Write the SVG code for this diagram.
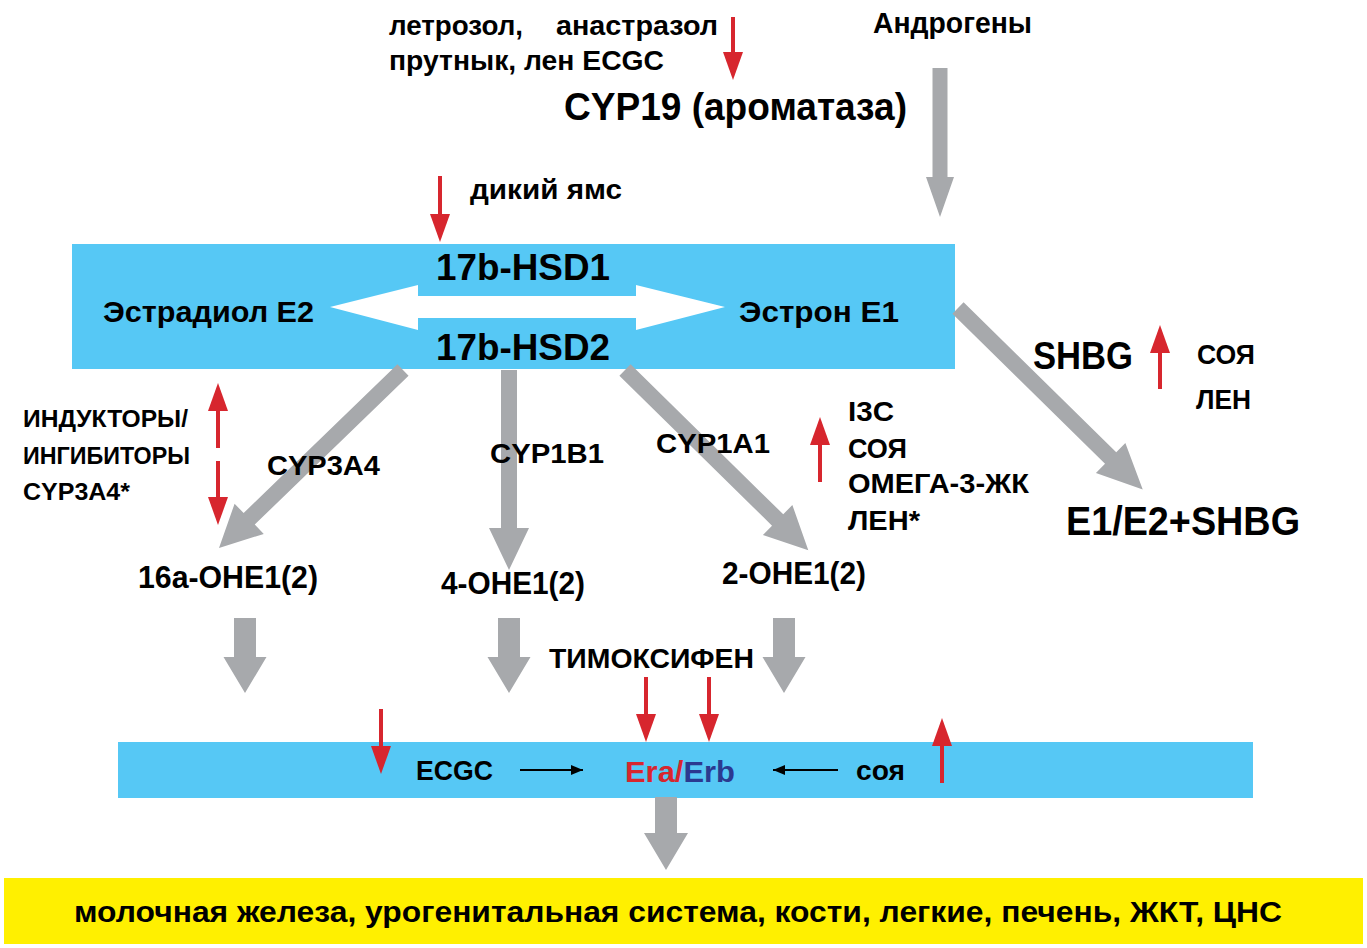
<svg xmlns="http://www.w3.org/2000/svg" width="1367" height="948" viewBox="0 0 1367 948">
<style>
text{font-family:"Liberation Sans Narrow","Liberation Sans",Arial,sans-serif;font-weight:bold;fill:#000}
.g{fill:#A7A9AC}
.blue{fill:#56C8F5}
.red{stroke:#D7262E;stroke-width:4;fill:none}
.blk{stroke:#000;stroke-width:2;fill:none}
</style>
<defs>
<marker id="rh" markerUnits="userSpaceOnUse" markerWidth="28" markerHeight="20" refX="18" refY="10" viewBox="0 0 28 20" orient="auto">
<path d="M0,0 L28,10 L0,20 Z" fill="#D7262E"/>
</marker>
<marker id="bh" markerUnits="userSpaceOnUse" markerWidth="12" markerHeight="10" refX="12" refY="5" viewBox="0 0 12 10" orient="auto">
<path d="M0,0 L12,5 L0,10 Z" fill="#000"/>
</marker>
</defs>
<rect width="1367" height="948" fill="#fff"/>

<g id="node-main">
<rect class="blue" x="72" y="244" width="883" height="125"/>
<polygon fill="#fff" points="330,307 418,285 418,296 636,296 636,285 725,307 636,330 636,318 418,318 418,330"/>
<text x="436" y="280" font-size="36" textLength="174" lengthAdjust="spacingAndGlyphs">17b-HSD1</text>
<text x="436" y="360" font-size="36" textLength="174" lengthAdjust="spacingAndGlyphs">17b-HSD2</text>
<text x="103" y="322" font-size="30" textLength="211" lengthAdjust="spacingAndGlyphs">Эстрадиол E2</text>
<text x="739" y="322" font-size="30" textLength="160" lengthAdjust="spacingAndGlyphs">Эстрон E1</text>
</g>

<g id="node-receptor">
<rect class="blue" x="118" y="742" width="1135" height="56"/>
<text x="416" y="780" font-size="28" textLength="77" lengthAdjust="spacingAndGlyphs">ECGC</text>
<text x="625" y="782" font-size="29" textLength="110" lengthAdjust="spacingAndGlyphs"><tspan fill="#D7262E">Era/</tspan><tspan fill="#2B3990">Erb</tspan></text>
<text x="856" y="780" font-size="28" textLength="49" lengthAdjust="spacingAndGlyphs">соя</text>
</g>

<g id="node-target">
<rect x="4" y="878" width="1359" height="66" fill="#FFF000"/>
<text x="74" y="922" font-size="29" textLength="1208" lengthAdjust="spacingAndGlyphs">молочная железа, урогенитальная система, кости, легкие, печень, ЖКТ, ЦНС</text>
</g>

<g id="node-aromatase">
<text x="389" y="35" font-size="28" textLength="134" lengthAdjust="spacingAndGlyphs">летрозол,</text>
<text x="556" y="35" font-size="28" textLength="162" lengthAdjust="spacingAndGlyphs">анастразол</text>
<text x="389" y="70" font-size="28" textLength="275" lengthAdjust="spacingAndGlyphs">прутнык, лен ECGC</text>
<text x="564" y="120" font-size="39" textLength="343" lengthAdjust="spacingAndGlyphs">CYP19 (ароматаза)</text>
</g>

<g id="node-androgens">
<text x="873" y="33" font-size="29" textLength="159" lengthAdjust="spacingAndGlyphs">Андрогены</text>
</g>

<g id="node-yam">
<text x="470" y="199" font-size="28" textLength="152" lengthAdjust="spacingAndGlyphs">дикий ямс</text>
</g>

<g id="node-inducers">
<text x="23" y="427" font-size="23" textLength="165" lengthAdjust="spacingAndGlyphs">ИНДУКТОРЫ/</text>
<text x="23" y="464" font-size="23" textLength="167" lengthAdjust="spacingAndGlyphs">ИНГИБИТОРЫ</text>
<text x="23" y="500" font-size="23" textLength="107" lengthAdjust="spacingAndGlyphs">CYP3A4*</text>
</g>

<g id="node-16a"><text x="138" y="588" font-size="31" textLength="180" lengthAdjust="spacingAndGlyphs">16a-OHE1(2)</text></g>
<g id="node-4"><text x="441" y="594" font-size="31" textLength="144" lengthAdjust="spacingAndGlyphs">4-OHE1(2)</text></g>
<g id="node-2"><text x="722" y="584" font-size="31" textLength="144" lengthAdjust="spacingAndGlyphs">2-OHE1(2)</text></g>

<g id="node-i3c">
<text x="848" y="421" font-size="27" textLength="46" lengthAdjust="spacingAndGlyphs">I3C</text>
<text x="848" y="458" font-size="27" textLength="59" lengthAdjust="spacingAndGlyphs">СОЯ</text>
<text x="848" y="493" font-size="27" textLength="181" lengthAdjust="spacingAndGlyphs">ОМЕГА-3-ЖК</text>
<text x="848" y="530" font-size="27" textLength="72" lengthAdjust="spacingAndGlyphs">ЛЕН*</text>
</g>

<g id="node-shbg">
<text x="1033" y="369" font-size="38" textLength="100" lengthAdjust="spacingAndGlyphs">SHBG</text>
<text x="1197" y="364" font-size="27" textLength="58" lengthAdjust="spacingAndGlyphs">СОЯ</text>
<text x="1196" y="409" font-size="27" textLength="55" lengthAdjust="spacingAndGlyphs">ЛЕН</text>
</g>

<g id="node-e1e2shbg"><text x="1066" y="535" font-size="40" textLength="234" lengthAdjust="spacingAndGlyphs">E1/E2+SHBG</text></g>

<g id="node-tamoxifen"><text x="549" y="668" font-size="28" textLength="205" lengthAdjust="spacingAndGlyphs">ТИМОКСИФЕН</text></g>

<g id="connectors">
<polygon class="g" transform="translate(940,68) rotate(90)" points="0,-7.5 109,-7.5 109,-14 149,0 109,14 109,7.5 0,7.5"/>
<polygon class="g" transform="translate(403,370) rotate(135.95)" points="0,-8 214,-8 214,-21 256,0 214,21 214,8 0,8"/>
<polygon class="g" transform="translate(509,370) rotate(90)" points="0,-8 158,-8 158,-20 200,0 158,20 158,8 0,8"/>
<polygon class="g" transform="translate(625,370) rotate(44.5)" points="0,-8 214,-8 214,-21 257,0 214,21 214,8 0,8"/>
<polygon class="g" transform="translate(958,308) rotate(44.5)" points="0,-8 214,-8 214,-21 259,0 214,21 214,8 0,8"/>
<polygon class="g" points="234,618 256,618 256,657 266.5,657 245,693 223.5,657 234,657"/>
<polygon class="g" points="498,618 520,618 520,657 530.5,657 509,693 487.5,657 498,657"/>
<polygon class="g" points="773,618 795,618 795,657 805.5,657 784,693 762.5,657 773,657"/>
<polygon class="g" points="655,797 677,797 677,833 688,833 666,870 644,833 655,833"/>
<line class="red" x1="733" y1="17" x2="733" y2="70" marker-end="url(#rh)"/>
<line class="red" x1="440" y1="176" x2="440" y2="232" marker-end="url(#rh)"/>
<line class="red" x1="218" y1="448" x2="218" y2="393" marker-end="url(#rh)"/>
<line class="red" x1="218" y1="461" x2="218" y2="515" marker-end="url(#rh)"/>
<line class="red" x1="820" y1="482" x2="820" y2="427" marker-end="url(#rh)"/>
<line class="red" x1="1160" y1="389" x2="1160" y2="335" marker-end="url(#rh)"/>
<line class="red" x1="646" y1="677" x2="646" y2="732" marker-end="url(#rh)"/>
<line class="red" x1="709" y1="677" x2="709" y2="732" marker-end="url(#rh)"/>
<line class="red" x1="381" y1="709" x2="381" y2="764" marker-end="url(#rh)"/>
<line class="red" x1="942" y1="783" x2="942" y2="728" marker-end="url(#rh)"/>
<line class="blk" x1="520" y1="770" x2="583" y2="770" marker-end="url(#bh)"/>
<line class="blk" x1="838" y1="770" x2="773" y2="770" marker-end="url(#bh)"/>
<text x="267" y="475" font-size="27" textLength="113" lengthAdjust="spacingAndGlyphs">CYP3A4</text>
<text x="490" y="463" font-size="27" textLength="114" lengthAdjust="spacingAndGlyphs">CYP1B1</text>
<text x="656" y="453" font-size="27" textLength="114" lengthAdjust="spacingAndGlyphs">CYP1A1</text>
</g>
</svg>
